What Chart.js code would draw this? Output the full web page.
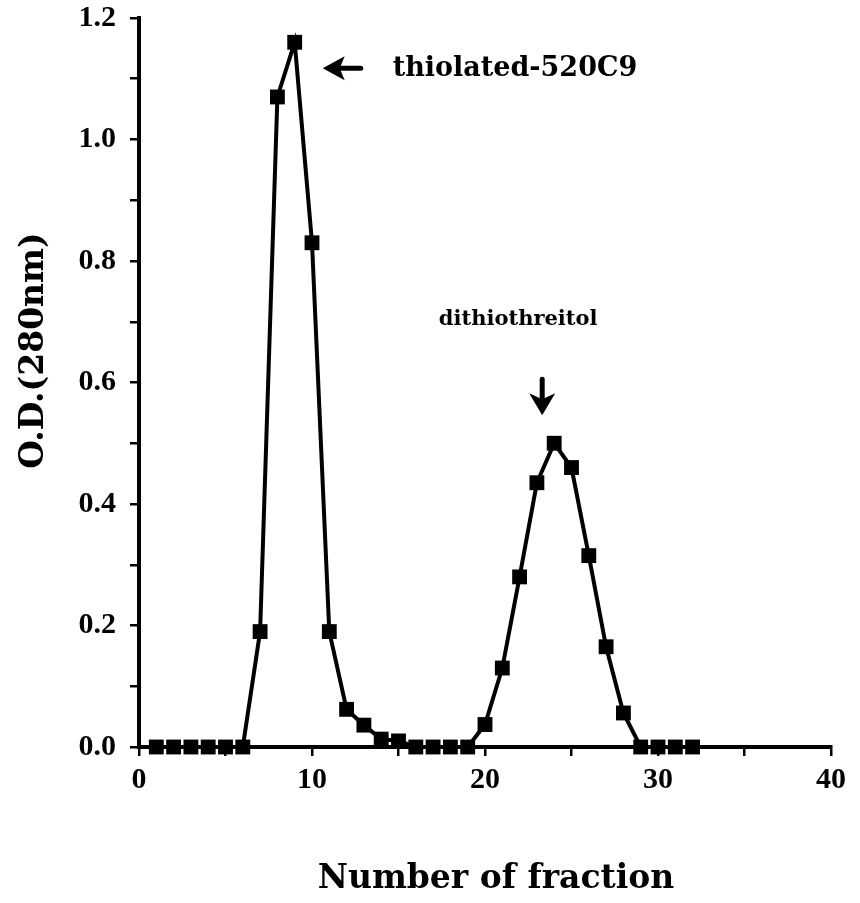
<!DOCTYPE html>
<html>
<head>
<meta charset="utf-8">
<script src="https://cdn.jsdelivr.net/npm/chart.js@4.4.1/dist/chart.umd.min.js"></script>
<style>
  html, body { margin: 0; padding: 0; background: #ffffff; }
  #wrap { width: 860px; height: 903px; position: relative; }
</style>
</head>
<body>
<div id="wrap"><canvas id="c"></canvas></div>
<script>
// ---- data ----
const fractions = [1, 2, 3, 4, 5, 6, 7, 8, 9, 10, 11, 12, 13, 14, 15, 16,
                   17, 18, 19, 20, 21, 22, 23, 24, 25, 26, 27, 28, 29, 30, 31, 32];
const odValues  = [0, 0, 0, 0, 0, 0, 0.19, 1.07, 1.16, 0.83, 0.19, 0.062, 0.036, 0.013, 0.010, 0,
                   0, 0, 0, 0.037, 0.13, 0.28, 0.435, 0.50, 0.46, 0.315, 0.165, 0.056, 0, 0, 0, 0];
const xTicks      = [0, 5, 10, 15, 20, 25, 30, 35, 40];
const xTickLabels = ['0', '', '10', '', '20', '', '30', '', '40'];
const yTicks      = [0, 0.1, 0.2, 0.3, 0.4, 0.5, 0.6, 0.7, 0.8, 0.9, 1.0, 1.1, 1.2];
const yTickLabels = ['0.0', '', '0.2', '', '0.4', '', '0.6', '', '0.8', '', '1.0', '', '1.2'];
const xTitle = 'Number of fraction';
const yTitle = 'O.D.(280nm)';
const peakNotes = [
  { text: 'thiolated-520C9', fraction: 9,  arrow: 'left' },
  { text: 'dithiothreitol',  fraction: 24, arrow: 'down' }
];

const tickFont = { family: "'Liberation Serif', 'Times New Roman', serif", weight: 'bold', size: 30 };

const notesPlugin = {
  id: 'notes',
  afterDatasetsDraw(chart) {
    const ctx = chart.ctx;
    const xs = chart.scales.x, ys = chart.scales.y;
    const ca = chart.chartArea;
    ctx.save();
    ctx.fillStyle = '#000';
    ctx.strokeStyle = '#000';
    // y axis title
    ctx.save();
    ctx.translate(34, (ca.top + ca.bottom) / 2 - 32);
    ctx.rotate(-Math.PI / 2);
    ctx.font = "bold 33px 'DejaVu Serif'";
    ctx.textAlign = 'center';
    ctx.textBaseline = 'middle';
    ctx.fillText(yTitle, 0, 0);
    ctx.restore();
    // x axis title
    ctx.font = "bold 33px 'DejaVu Serif'";
    ctx.textAlign = 'center';
    ctx.textBaseline = 'middle';
    ctx.fillText(xTitle, (ca.left + ca.right) / 2 + 11, ca.bottom + 132);

    peakNotes.forEach(n => {
      const i = fractions.indexOf(n.fraction);
      const px = xs.getPixelForValue(fractions[i]);
      const py = ys.getPixelForValue(odValues[i]);
      if (n.arrow === 'left') {
        // arrow pointing left
        const tx = px + 28, ty = py + 26;
        ctx.beginPath();
        ctx.moveTo(tx, ty);
        ctx.lineTo(tx + 22, ty - 12);
        ctx.lineTo(tx + 17, ty);
        ctx.lineTo(tx + 22, ty + 12);
        ctx.closePath();
        ctx.fill();
        ctx.lineWidth = 5;
        ctx.lineCap = 'round';
        ctx.beginPath();
        ctx.moveTo(tx + 12, ty);
        ctx.lineTo(tx + 38, ty);
        ctx.stroke();
        ctx.font = "bold 27px 'DejaVu Serif'";
        ctx.textAlign = 'left';
        ctx.textBaseline = 'alphabetic';
        ctx.fillText(n.text, px + 98, py + 34);
      } else {
        // arrow pointing down
        const tx = px - 12, ty = py - 28;
        ctx.beginPath();
        ctx.moveTo(tx, ty);
        ctx.lineTo(tx - 13, ty - 22);
        ctx.lineTo(tx, ty - 16);
        ctx.lineTo(tx + 13, ty - 22);
        ctx.closePath();
        ctx.fill();
        ctx.lineWidth = 5;
        ctx.lineCap = 'round';
        ctx.beginPath();
        ctx.moveTo(tx, ty - 10);
        ctx.lineTo(tx, ty - 36);
        ctx.stroke();
        ctx.font = "bold 21px 'DejaVu Serif'";
        ctx.textAlign = 'center';
        ctx.textBaseline = 'alphabetic';
        ctx.fillText(n.text, px - 36, py - 118);
      }
    });
    ctx.restore();
  }
};

new Chart(document.getElementById('c'), {
  type: 'scatter',
  data: {
    datasets: [{
      data: fractions.map((f, i) => ({ x: f, y: odValues[i] })),
      showLine: true,
      borderColor: '#000',
      borderWidth: 4,
      backgroundColor: '#000',
      pointStyle: 'rect',
      pointRadius: 10.5,
      pointBackgroundColor: '#000',
      pointBorderWidth: 0,
      tension: 0,
      clip: false
    }]
  },
  options: {
    responsive: true,
    maintainAspectRatio: false,
    animation: false,
    layout: { padding: { top: 18, right: 29, left: 0, bottom: 0 } },
    plugins: { legend: { display: false }, tooltip: { enabled: false } },
    scales: {
      x: {
        type: 'linear', min: 0, max: 40,
        afterBuildTicks: s => { s.ticks = xTicks.map(v => ({ value: v })); },
        afterFit: s => { s.height = 156; s.paddingLeft = 0; s.paddingRight = 0; },
        ticks: {
          font: tickFont, color: '#000', padding: 6, maxRotation: 0, autoSkip: false,
          callback: (v, i) => xTickLabels[i]
        },
        grid: { drawOnChartArea: false, drawTicks: true, tickLength: 9, color: '#000', lineWidth: 2.5 },
        border: { color: '#000', width: 4 }
      },
      y: {
        min: 0, max: 1.2,
        afterBuildTicks: s => { s.ticks = yTicks.map(v => ({ value: v })); },
        afterFit: s => { s.width = 139; s.paddingTop = 0; s.paddingBottom = 0; },
        ticks: {
          font: tickFont, color: '#000', padding: 14, autoSkip: false,
          callback: (v, i) => yTickLabels[i]
        },
        grid: { drawOnChartArea: false, drawTicks: true, tickLength: 9, color: '#000', lineWidth: 2.5 },
        border: { color: '#000', width: 4 }
      }
    }
  },
  plugins: [notesPlugin]
});
</script>
</body>
</html>
